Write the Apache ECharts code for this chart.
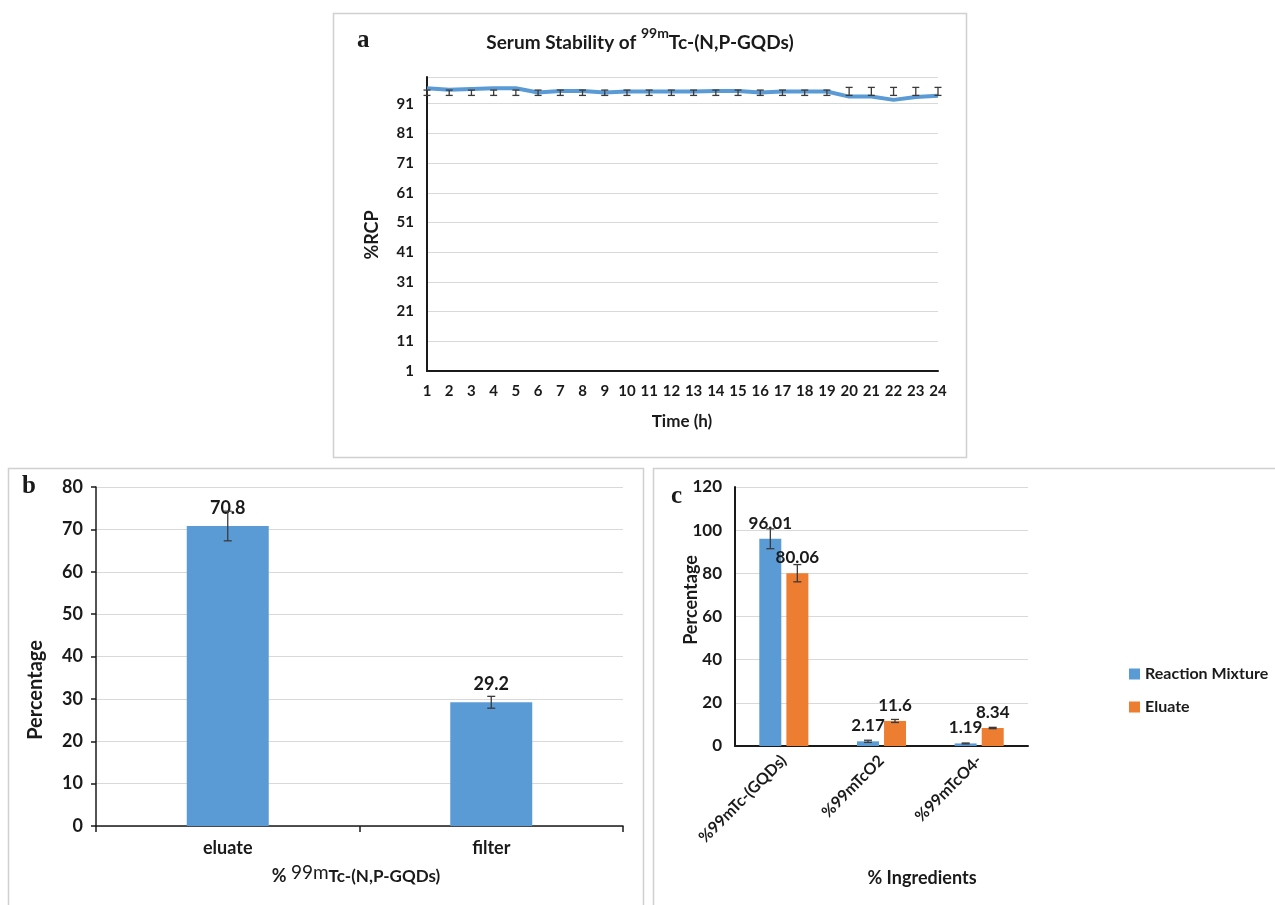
<!DOCTYPE html>
<html>
<head>
<meta charset="utf-8">
<script src="https://cdn.jsdelivr.net/npm/echarts@6/dist/echarts.min.js"></script>
<style>
  html, body { margin: 0; padding: 0; background: #ffffff; }
  #chart { width: 1275px; height: 905px; }
</style>
</head>
<body>
<div id="chart"></div>
<script>
// ---- (a) serum stability over 24 h ----
const hours = ['1','2','3','4','5','6','7','8','9','10','11','12','13','14','15','16','17','18','19','20','21','22','23','24'];
const rcp = [96.2, 95.7, 96.0, 96.2, 96.2, 94.8, 95.3, 95.3, 94.8, 95.1, 95.1, 95.1, 95.1, 95.3, 95.3, 94.8, 95.1, 95.1, 95.1, 93.4, 93.4, 92.3, 93.3, 93.7];
const rcpErrLow = [93.8, 93.8, 93.8, 93.8, 93.8, 93.8, 93.8, 93.8, 93.8, 93.8, 93.8, 93.8, 93.8, 93.8, 93.8, 93.8, 93.8, 93.8, 93.8, 93.8, 93.8, 93.8, 93.8, 93.8];
const rcpErrHigh = [95.6, 95.6, 95.6, 95.6, 95.6, 95.6, 95.6, 95.6, 95.6, 95.6, 95.6, 95.6, 95.6, 95.6, 95.6, 95.6, 95.6, 95.6, 95.6, 96.5, 96.5, 96.5, 96.5, 96.5];

// ---- (b) eluate vs filter ----
const fractions = ['eluate', 'filter'];
const fractionPct = [70.8, 29.2];
const fractionSd = [3.5, 1.4];

// ---- (c) ingredients ----
const ingredients = ['%99mTc-(GQDs)', '%99mTcO2', '%99mTcO4-'];
const reactionMixture = [96.01, 2.17, 1.19];
const reactionMixtureSd = [4.6, 0.5, 0.2];
const eluate = [80.06, 11.6, 8.34];
const eluateSd = [4.0, 0.7, 0.3];

const BLUE = '#5b9bd5';
const ORANGE = '#ed7d31';
const GRID = '#d9d9d9';
const INK = '#1a1a1a';
const FONT = 'Lato, "Open Sans", sans-serif';

const tickFont = (size) => ({ color: INK, fontFamily: FONT, fontWeight: 'bold', fontSize: size });

// error-bar renderer: vertical whisker with caps, shifted sideways by offset px
function errorBars(axisIndex, lows, highs, offset, cap) {
  return {
    type: 'custom',
    xAxisIndex: axisIndex,
    yAxisIndex: axisIndex,
    silent: true,
    z: 5,
    data: lows.map((l, i) => [i, l, highs[i]]),
    encode: { x: 0, y: [1, 2] },
    renderItem(params, api) {
      const lo = api.coord([api.value(0), api.value(1)]);
      const hi = api.coord([api.value(0), api.value(2)]);
      const x = lo[0] + offset;
      const style = { stroke: '#3a3a3a', lineWidth: 1.3 };
      return {
        type: 'group',
        children: [
          { type: 'line', shape: { x1: x, y1: lo[1], x2: x, y2: hi[1] }, style },
          { type: 'line', shape: { x1: x - cap, y1: lo[1], x2: x + cap, y2: lo[1] }, style },
          { type: 'line', shape: { x1: x - cap, y1: hi[1], x2: x + cap, y2: hi[1] }, style }
        ]
      };
    }
  };
}

const fracLow = fractionPct.map((v, i) => v - fractionSd[i]);
const fracHigh = fractionPct.map((v, i) => v + fractionSd[i]);
const rmLow = reactionMixture.map((v, i) => v - reactionMixtureSd[i]);
const rmHigh = reactionMixture.map((v, i) => v + reactionMixtureSd[i]);
const elLow = eluate.map((v, i) => v - eluateSd[i]);
const elHigh = eluate.map((v, i) => v + eluateSd[i]);

const barLabel = (size, dist) => ({
  show: true,
  position: 'top',
  distance: dist,
  color: INK,
  fontFamily: FONT,
  fontWeight: 'bold',
  fontSize: size
});

const panelBox = (x, y, w, h) => ({
  type: 'rect',
  shape: { x: x + 0.5, y: y + 0.5, width: w, height: h },
  style: { fill: 'none', stroke: '#d0d0d0', lineWidth: 1.5 },
  silent: true
});

const letter = (t, x, y) => ({
  type: 'text',
  left: x, top: y,
  style: { text: t, font: 'bold 25px "Liberation Serif", "DejaVu Serif", serif', fill: INK }
});

const axisTitle = (t, x, y, rot, size) => ({
  type: 'text',
  x: x, y: y,
  rotation: rot ? Math.PI / 2 : 0,
  style: {
    text: t, fill: INK, align: 'center', verticalAlign: 'middle',
    font: 'bold ' + size + 'px ' + FONT
  }
});

const chart = echarts.init(document.getElementById('chart'), null, { renderer: 'canvas' });

chart.setOption({
  backgroundColor: '#ffffff',
  animation: false,
  grid: [
    { left: 427, top: 77, width: 511, height: 294 },
    { left: 96, top: 487, width: 527, height: 339 },
    { left: 735, top: 487, width: 293, height: 259 }
  ],
  legend: {
    data: ['Reaction Mixture', 'Eluate'],
    orient: 'vertical',
    left: 1124,
    top: 661,
    itemWidth: 11,
    itemHeight: 11,
    itemGap: 17,
    icon: 'rect',
    textStyle: { color: INK, fontFamily: FONT, fontWeight: 'bold', fontSize: 16 }
  },
  xAxis: [
    {
      gridIndex: 0, type: 'category', data: hours, boundaryGap: false,
      axisLine: { lineStyle: { color: INK, width: 2 } },
      axisTick: { show: false },
      axisLabel: Object.assign({ margin: 13, interval: 0 }, tickFont(15)),
      splitLine: { show: false }
    },
    {
      gridIndex: 1, type: 'category', data: fractions,
      axisLine: { lineStyle: { color: INK, width: 1.5 } },
      axisTick: { show: true, length: 6, lineStyle: { color: INK, width: 1.5 } },
      axisLabel: Object.assign({ margin: 13 }, tickFont(18))
    },
    {
      gridIndex: 2, type: 'category', data: ingredients,
      axisLine: { lineStyle: { color: INK, width: 2 } },
      axisTick: { show: false },
      axisLabel: Object.assign({ margin: 12, rotate: 45, interval: 0 }, tickFont(16))
    }
  ],
  yAxis: [
    {
      gridIndex: 0, type: 'value', min: 1, max: 100, interval: 10,
      axisLine: { show: true, lineStyle: { color: INK, width: 2 } },
      axisTick: { show: false },
      axisLabel: Object.assign({ margin: 13, showMaxLabel: false }, tickFont(15)),
      splitLine: { lineStyle: { color: GRID, width: 1.2 } }
    },
    {
      gridIndex: 1, type: 'value', min: 0, max: 80, interval: 10,
      axisLine: { show: true, lineStyle: { color: INK, width: 1.5 } },
      axisTick: { show: true, length: 5, lineStyle: { color: INK, width: 1.5 } },
      axisLabel: Object.assign({ margin: 13 }, tickFont(18)),
      splitLine: { lineStyle: { color: GRID, width: 1.2 } }
    },
    {
      gridIndex: 2, type: 'value', min: 0, max: 120, interval: 20,
      axisLine: { show: true, lineStyle: { color: INK, width: 2 } },
      axisTick: { show: false },
      axisLabel: Object.assign({ margin: 13 }, tickFont(17)),
      splitLine: { lineStyle: { color: GRID, width: 1.2 } }
    }
  ],
  series: [
    {
      name: '%RCP', type: 'line', xAxisIndex: 0, yAxisIndex: 0,
      data: rcp, showSymbol: false, symbol: 'none', z: 4,
      lineStyle: { color: BLUE, width: 4 }
    },
    errorBars(0, rcpErrLow, rcpErrHigh, 0, 3.5),
    {
      name: '% 99mTc-(N,P-GQDs)', type: 'bar', xAxisIndex: 1, yAxisIndex: 1,
      data: fractionPct, barWidth: 82,
      itemStyle: { color: BLUE },
      label: barLabel(18, 9)
    },
    errorBars(1, fracLow, fracHigh, 0, 4),
    {
      name: 'Reaction Mixture', type: 'bar', xAxisIndex: 2, yAxisIndex: 2,
      data: reactionMixture, barWidth: 22, barGap: '23%',
      itemStyle: { color: BLUE },
      label: barLabel(17, 7)
    },
    {
      name: 'Eluate', type: 'bar', xAxisIndex: 2, yAxisIndex: 2,
      data: eluate, barWidth: 22, barGap: '23%',
      itemStyle: { color: ORANGE },
      label: barLabel(17, 7)
    },
    errorBars(2, rmLow, rmHigh, -13.5, 4),
    errorBars(2, elLow, elHigh, 13.5, 4)
  ],
  graphic: [
    panelBox(333, 13, 633, 444),
    panelBox(8, 468, 635, 445),
    panelBox(653, 468, 630, 445),
    letter('a', 357, 28),
    letter('b', 22, 474),
    letter('c', 671, 484),
    {
      type: 'text',
      x: 640, y: 39,
      style: {
        text: '{m|Serum Stability of }{s|99m}{m|Tc-(N,P-GQDs)}',
        align: 'center', verticalAlign: 'middle',
        rich: {
          m: { fontFamily: FONT, fontWeight: 'bold', fontSize: 19, fill: INK, lineHeight: 26, verticalAlign: 'bottom' },
          s: { fontFamily: FONT, fontWeight: 'bold', fontSize: 14, fill: INK, lineHeight: 26, verticalAlign: 'top' }
        }
      }
    },
    axisTitle('%RCP', 372, 235, true, 18),
    axisTitle('Time (h)', 682, 422, false, 17),
    axisTitle('Percentage', 36, 690, true, 20),
    {
      type: 'text',
      x: 356, y: 874,
      style: {
        text: '{m|% }{s|99m}{t|Tc-(N,P-GQDs)}',
        align: 'center', verticalAlign: 'middle',
        rich: {
          m: { fontFamily: FONT, fontWeight: 'bold', fontSize: 18, fill: INK, lineHeight: 22, verticalAlign: 'bottom' },
          s: { fontFamily: FONT, fontSize: 19, fill: INK, lineHeight: 22, verticalAlign: 'top' },
          t: { fontFamily: FONT, fontWeight: 'bold', fontSize: 17, fill: INK, lineHeight: 22, verticalAlign: 'bottom' }
        }
      }
    },
    axisTitle('Percentage', 691, 600, true, 18),
    axisTitle('% Ingredients', 922, 878, false, 18)
  ]
});
</script>
</body>
</html>
